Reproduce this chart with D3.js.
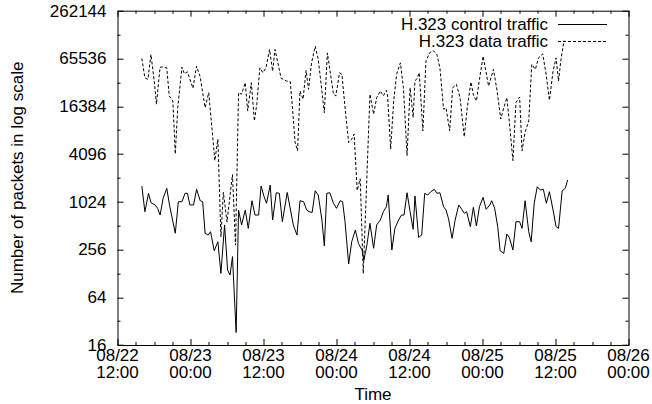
<!DOCTYPE html>
<html>
<head>
<meta charset="utf-8">
<script src="https://cdn.jsdelivr.net/npm/d3@7"></script>
<style>
body { margin:0; background:#fff; }
svg text { font-family: "Liberation Sans", Arial, sans-serif; font-size:17px; fill:#000; }
</style>
</head>
<body>
<div id="my_viz"></div>
<script>
// hours after 08/22 12:00
const controlHours = [4.0,4.5,5.1,5.5,6.2,6.6,7.0,7.5,8.1,8.6,9.5,10.0,10.6,11.1,11.5,11.9,12.5,13.0,13.6,14.0,
  14.4,14.9,15.3,15.9,16.5,17.0,17.6,18.1,18.5,18.9,19.5,19.9,20.4,21.0,21.5,22.1,22.6,23.2,23.6,24.1,
  24.5,25.1,25.5,26.1,26.6,27.1,27.9,28.9,29.5,30.0,30.6,31.1,31.5,32.0,32.5,33.0,33.6,34.0,34.4,34.9,
  35.5,36.0,36.6,37.0,37.4,38.0,38.5,39.1,39.6,40.2,40.5,41.0,41.5,42.1,42.6,43.2,43.7,44.2,44.5,45.1,
  45.6,46.2,46.7,47.1,47.6,48.1,48.6,48.9,49.5,50.0,50.5,51.0,51.5,52.1,52.5,53.0,53.6,54.0,54.4,55.0,
  55.5,56.1,56.6,57.0,57.4,58.0,58.5,59.0,59.5,60.1,60.6,61.2,61.5,62.0,62.5,62.9,63.5,64.0,64.4,65.0,
  65.5,66.1,66.5,67.0,67.6,68.0,68.5,69.0,69.5,70.0,70.5,71.0,71.6,72.1,72.5,73.1,73.6,74.0]
const controlValues = [1615,766,1307,995,931,846,696,1130,1510,886,410,1024,1024,1307,1307,931,931,1467,1054,1024,
  410,389,429,247,320,128,522,141,122,208,23,805,522,805,473,1054,696,696,1615,1184,
  978,1663,602,1329,1307,573,1340,522,389,1054,1024,805,766,750,1409,1244,602,283,1307,1329,
  978,846,1054,1024,573,168,320,451,306,252,188,291,547,265,522,602,766,886,1244,252,
  473,602,696,696,1329,766,460,1208,364,389,1307,1244,1369,1467,1307,1329,886,805,633,354,
  602,931,821,731,766,496,871,506,886,1163,821,931,1054,846,496,247,229,401,364,252,
  573,573,473,1054,429,320,978,1583,1438,1467,978,1369,805,496,473,1409,1510,1922]

const dataHours = [4.0,4.5,5.0,5.5,6.1,6.4,7.0,7.4,8.1,8.5,9.1,9.5,9.9,10.6,11.0,11.5,12.4,13.0,13.6,14.4,
  15.0,16.0,16.5,17.0,17.4,18.0,18.9,19.4,19.9,20.4,21.0,21.4,22.0,22.5,22.9,23.4,23.9,24.4,25.0,25.5,
  25.9,26.9,27.8,28.4,28.8,29.2,29.6,30.0,30.5,31.0,31.4,31.9,32.5,33.0,33.6,34.0,34.5,34.9,35.5,35.9,
  36.5,36.9,37.4,38.0,38.5,38.9,39.4,39.9,40.4,41.5,42.1,42.6,43.2,43.7,44.2,44.4,44.9,45.4,45.9,46.5,
  47.0,47.6,48.1,48.6,48.9,49.3,49.6,50.2,50.7,51.3,51.9,52.5,53.0,53.6,54.0,54.6,55.1,55.7,56.3,57.0,
  57.5,58.1,58.5,59.0,59.5,60.1,61.0,61.8,62.4,63.0,63.5,64.0,64.4,65.0,65.5,66.1,66.5,67.0,67.6,68.1,
  68.7,69.2,69.9,70.5,71.0,71.6,72.1,72.5,72.9,73.4]
const dataValues = [65536,37400,35700,73500,30900,17400,51000,51000,49900,22100,19100,4096,15700,51000,42000,44500,27600,52400,38200,15700,
  24300,3380,6300,369,1351,568,2253,290,24300,23200,32400,14300,32400,10700,17400,49900,43300,49900,85000,45400,
  85000,36800,34000,33400,14300,5700,4500,25500,20100,46300,26800,57700,93500,63700,25500,13600,77000,47700,23200,22100,
  43300,41300,15700,5700,6300,7290,1420,1990,128,23200,13000,21000,25500,22100,26000,22100,4730,19100,42000,57700,
  28000,3900,28000,11800,34000,37400,43300,8030,60600,77000,82600,73500,49900,15000,15700,8030,28000,30900,21200,6740,
  15700,33100,22700,19100,35700,70000,29400,47700,25500,11300,15700,21000,10700,3380,18200,21400,4500,7640,10700,55100,
  47700,66700,74800,39400,19500,45400,66700,34000,63700,110000]

const yTicks = [16, 64, 256, 1024, 4096, 16384, 65536, 262144]
const seriesNames = ["H.323 control traffic", "H.323 data traffic"]

const width = 652
const height = 404
const margin = {top:10.7, right:23.5, bottom:59, left:117.5}
const bounded = {
  width : width - margin.left - margin.right,
  height : height - margin.top - margin.bottom
}

const start = Date.UTC(2003, 7, 22, 12)
const hour = 3600 * 1000

var svg = d3.select("#my_viz")
  .append("svg")
  .attr("width", width)
  .attr("height", height)

var group = svg.append("g")
  .attr("transform", "translate(" + margin.left + "," + margin.top + ")")

var xAxis = d3.scaleUtc()
  .domain([new Date(start), new Date(start + 84 * hour)])
  .range([0, bounded.width])

var yAxis = d3.scaleLog().base(2)
  .domain([16, 262144])
  .range([bounded.height, 0])

// ticks, gnuplot style: inward and mirrored
const majorX = d3.utcHour.every(12).range(new Date(start), new Date(start + 84 * hour + 1))
const minorX = d3.utcHour.every(3).range(new Date(start), new Date(start + 84 * hour + 1))
const minorY = d3.range(4, 19).map(p => Math.pow(2, p))

var ticks = group.append("g").attr("stroke", "#000").attr("stroke-width", 1)
minorX.forEach(function(t) {
  var major = majorX.some(m => +m === +t)
  var len = major ? 6 : 3
  var x = Math.round(xAxis(t)) + 0.5
  ticks.append("line").attr("x1", x).attr("x2", x).attr("y1", bounded.height).attr("y2", bounded.height - len)
  ticks.append("line").attr("x1", x).attr("x2", x).attr("y1", 0).attr("y2", len)
})
minorY.forEach(function(v) {
  var major = yTicks.indexOf(v) >= 0
  var len = major ? 6 : 3
  var y = Math.round(yAxis(v)) + 0.5
  ticks.append("line").attr("x1", 0).attr("x2", len).attr("y1", y).attr("y2", y)
  ticks.append("line").attr("x1", bounded.width).attr("x2", bounded.width - len).attr("y1", y).attr("y2", y)
})

// Y tick labels
group.selectAll(".ylab")
  .data(yTicks)
  .enter()
  .append("text")
  .attr("class", "ylab")
  .attr("x", -11)
  .attr("y", d => yAxis(d))
  .attr("dy", "0.35em")
  .attr("text-anchor", "end")
  .text(d => d)

// X tick labels (two lines)
var fmtDay = d3.utcFormat("%m/%d")
var fmtTime = d3.utcFormat("%H:%M")
var xlab = group.selectAll(".xlab")
  .data(majorX)
  .enter()
  .append("text")
  .attr("class", "xlab")
  .attr("text-anchor", "middle")
  .attr("x", d => xAxis(d))
  .attr("y", bounded.height + 16)
xlab.append("tspan").attr("x", d => xAxis(d)).text(d => fmtDay(d))
xlab.append("tspan").attr("x", d => xAxis(d)).attr("dy", 17).text(d => fmtTime(d))

// axis titles
group.append("text")
  .attr("text-anchor", "middle")
  .attr("x", bounded.width / 2)
  .attr("y", bounded.height + 55)
  .text("Time")

svg.append("text")
  .attr("transform", "rotate(-90)")
  .attr("x", -(margin.top + bounded.height / 2))
  .attr("y", 23)
  .attr("text-anchor", "middle")
  .text("Number of packets in log scale")

// lines
var line = d3.line()
  .x(d => xAxis(new Date(start + d[0] * hour)))
  .y(d => yAxis(d[1]))

group.append("path")
  .attr("d", line(d3.zip(controlHours, controlValues)))
  .attr("fill", "none")
  .attr("stroke", "#000")
  .attr("stroke-width", 1)

group.append("path")
  .attr("d", line(d3.zip(dataHours, dataValues)))
  .attr("fill", "none")
  .attr("stroke", "#000")
  .attr("stroke-width", 1)
  .attr("stroke-dasharray", "3,2")

// border
group.append("rect")
  .attr("x", 0.5).attr("y", 0.5)
  .attr("width", bounded.width).attr("height", bounded.height)
  .attr("fill", "none")
  .attr("stroke", "#000")

// legend
var legend = svg.append("g")
seriesNames.forEach(function(name, i) {
  var y = 24 + i * 17
  legend.append("text")
    .attr("x", 548)
    .attr("y", y)
    .attr("dy", "0.35em")
    .attr("text-anchor", "end")
    .text(name)
  legend.append("line")
    .attr("x1", 558).attr("x2", 607)
    .attr("y1", y + 0.5).attr("y2", y + 0.5)
    .attr("stroke", "#000")
    .attr("stroke-dasharray", i == 1 ? "3,2" : null)
})
</script>
</body>
</html>
